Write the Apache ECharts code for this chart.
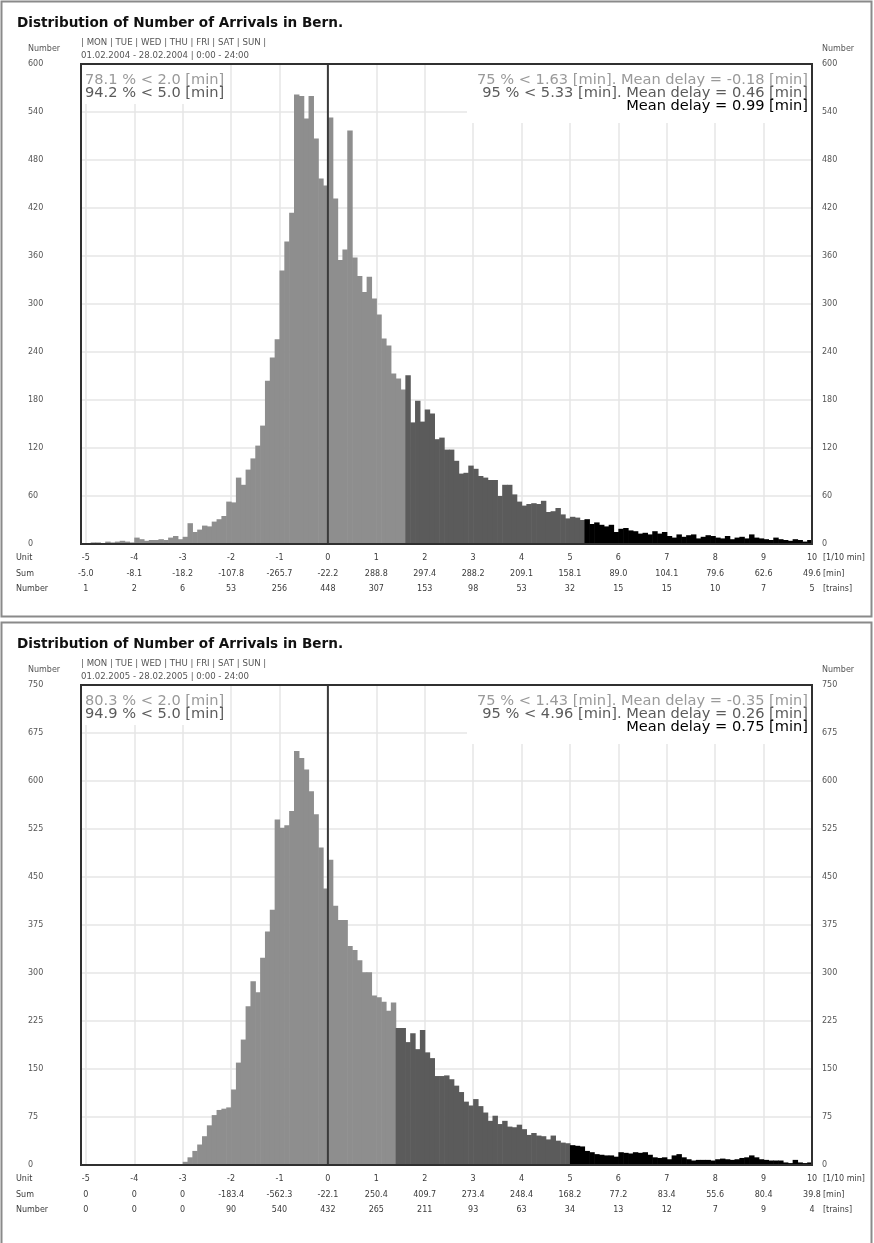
<!DOCTYPE html>
<html>
<head>
<meta charset="utf-8">
<title>Distribution of Number of Arrivals in Bern</title>
<script src="https://cdn.jsdelivr.net/npm/echarts@6/dist/echarts.min.js"></script>
<style>
  html, body { margin: 0; padding: 0; background: #fff; }
  #chart { width: 874px; height: 1243px; }
</style>
</head>
<body>
<div id="chart"></div>
<script>
// Histogram bins are 0.1 min wide; the bin labelled k holds delays in (k-0.1, k].
const binStart = -5.0;
const binStep = 0.1;

// February 2004, arrivals per bin from -5.0 to 10.0 min
const counts2004 = [
  1, 1, 2, 2, 1, 3, 2, 3, 4, 3,
  2, 8, 6, 4, 5, 5, 6, 5, 8, 10,
  6, 9, 26, 15, 18, 23, 22, 28, 31, 35,
  53, 52, 83, 74, 93, 107, 123, 148, 204, 233,
  256, 342, 378, 414, 562, 560, 532, 560, 507, 457,
  448, 533, 432, 355, 368, 517, 358, 335, 315, 334,
  307, 287, 257, 248, 213, 207, 193, 211, 152, 179,
  153, 168, 163, 131, 133, 118, 118, 104, 88, 89,
  98, 94, 85, 83, 80, 80, 60, 74, 74, 62,
  53, 48, 50, 51, 50, 54, 40, 41, 45, 37,
  32, 34, 33, 30, 31, 25, 27, 24, 22, 24,
  15, 19, 20, 17, 16, 13, 14, 12, 16, 13,
  15, 10, 8, 12, 9, 11, 12, 7, 9, 11,
  10, 8, 7, 10, 6, 8, 9, 7, 12, 8,
  7, 6, 5, 8, 6, 5, 4, 6, 5, 3,
  5
];

// February 2005, arrivals per bin from -5.0 to 10.0 min
const counts2005 = [
  0, 0, 0, 0, 0, 0, 0, 0, 0, 0,
  0, 0, 0, 0, 0, 0, 0, 0, 0, 0,
  0, 5, 12, 22, 32, 45, 62, 78, 86, 88,
  90, 118, 160, 196, 248, 287, 270, 324, 365, 399,
  540, 527, 531, 553, 647, 636, 618, 584, 548, 496,
  432, 477, 405, 383, 383, 342, 336, 320, 301, 301,
  265, 262, 255, 241, 254, 214, 214, 192, 206, 181,
  211, 176, 167, 139, 139, 140, 134, 124, 114, 99,
  93, 103, 92, 82, 69, 77, 64, 69, 60, 59,
  63, 56, 47, 50, 46, 45, 40, 46, 38, 35,
  34, 31, 30, 29, 22, 20, 17, 16, 15, 15,
  13, 20, 19, 18, 20, 19, 20, 16, 12, 11,
  12, 9, 15, 17, 12, 9, 7, 8, 8, 8,
  7, 9, 10, 9, 8, 9, 11, 12, 15, 12,
  9, 8, 7, 7, 7, 4, 3, 8, 4, 3,
  4
];

// Table rows under each histogram, one entry per whole minute -5 .. 10
const unitTicks = [-5, -4, -3, -2, -1, 0, 1, 2, 3, 4, 5, 6, 7, 8, 9, 10];
const sum2004 = ['-5.0', '-8.1', '-18.2', '-107.8', '-265.7', '-22.2', '288.8', '297.4', '288.2', '209.1', '158.1', '89.0', '104.1', '79.6', '62.6', '49.6'];
const number2004 = ['1', '2', '6', '53', '256', '448', '307', '153', '98', '53', '32', '15', '15', '10', '7', '5'];
const sum2005 = ['0', '0', '0', '-183.4', '-562.3', '-22.1', '250.4', '409.7', '273.4', '248.4', '168.2', '77.2', '83.4', '55.6', '80.4', '39.8'];
const number2005 = ['0', '0', '0', '90', '540', '432', '265', '211', '93', '63', '34', '13', '12', '7', '9', '4'];

// Count axis ticks
const yAxis2004 = { max: 600, step: 60 };
const yAxis2005 = { max: 750, step: 75 };

// Colour breaks: bins up to the 75 % delay are light, up to the 95 % delay dark, the rest black
const breaks2004 = { p75: 1.6, p95: 5.3 };
const breaks2005 = { p75: 1.4, p95: 5.0 };

// Summary texts
const weekdays = '| MON | TUE | WED | THU | FRI | SAT | SUN |';
const stats2004 = {
  period: '01.02.2004 - 28.02.2004 | 0:00 - 24:00',
  left: ['78.1 % < 2.0 [min]', '94.2 % < 5.0 [min]'],
  right: ['75 % < 1.63 [min]. Mean delay = -0.18 [min]', '95 % < 5.33 [min]. Mean delay = 0.46 [min]', 'Mean delay = 0.99 [min]']
};
const stats2005 = {
  period: '01.02.2005 - 28.02.2005 | 0:00 - 24:00',
  left: ['80.3 % < 2.0 [min]', '94.9 % < 5.0 [min]'],
  right: ['75 % < 1.43 [min]. Mean delay = -0.35 [min]', '95 % < 4.96 [min]. Mean delay = 0.26 [min]', 'Mean delay = 0.75 [min]']
};

const panels = [
  { top: 0, counts: counts2004, sums: sum2004, numbers: number2004, y: yAxis2004, breaks: breaks2004, stats: stats2004 },
  { top: 621, counts: counts2005, sums: sum2005, numbers: number2005, y: yAxis2005, breaks: breaks2005, stats: stats2005 }
];

// Layout
const PLOT_LEFT = 81, PLOT_WIDTH = 731, PLOT_TOP = 64, PLOT_HEIGHT = 480;
const FONT = 'DejaVu Sans';
const LIGHT = '#8e8e8e', DARK = '#5b5b5b', BLACK = '#000000';
const GRID_LINE = { color: '#e6e6e6', width: 1.5 };

const grid = [], xAxis = [], yAxis = [], series = [], graphic = [];

panels.forEach((p, i) => {
  const top = p.top + PLOT_TOP;
  grid.push({ left: PLOT_LEFT, top: top, width: PLOT_WIDTH, height: PLOT_HEIGHT, show: false, containLabel: false });

  const xBase = {
    gridIndex: i, type: 'value', min: -5.1, max: 10, splitNumber: 15, minInterval: 1, maxInterval: 1,
    axisLine: { show: false }, axisTick: { show: false }
  };
  // bars + vertical grid
  xAxis.push(Object.assign({}, xBase, { axisLabel: { show: false }, splitLine: { show: true, lineStyle: GRID_LINE } }));
  // table rows: Unit, Sum, Number
  const rows = [unitTicks.map(String), p.sums, p.numbers];
  rows.forEach((labels, r) => {
    xAxis.push(Object.assign({}, xBase, {
      position: 'bottom', offset: r * 15.5,
      splitLine: { show: false },
      axisLabel: {
        show: true, showMinLabel: false, showMaxLabel: true, margin: 10,
        fontSize: 8, color: '#3a3a3a', fontFamily: FONT,
        formatter: v => labels[unitTicks.indexOf(Math.round(v))] ?? ''
      }
    }));
  });

  const yBase = {
    gridIndex: i, type: 'value', min: 0, max: p.y.max, interval: p.y.step,
    axisLine: { show: false }, axisTick: { show: false }
  };
  yAxis.push(Object.assign({}, yBase, {
    position: 'left', splitLine: { show: true, lineStyle: GRID_LINE },
    axisLabel: { align: 'left', margin: 53, fontSize: 8, color: '#555', fontFamily: FONT }
  }));
  yAxis.push(Object.assign({}, yBase, {
    position: 'right', splitLine: { show: false },
    axisLabel: { align: 'left', margin: 10, fontSize: 8, color: '#555', fontFamily: FONT }
  }));

  const colourOf = k => (k <= p.breaks.p75 + 1e-9 ? LIGHT : (k <= p.breaks.p95 + 1e-9 ? DARK : BLACK));

  series.push({
    type: 'custom', xAxisIndex: i * 4, yAxisIndex: i * 2, clip: true, z: 2,
    data: p.counts.map((v, j) => [Math.round(binStart * 10 + j) / 10, v]),
    renderItem: (params, api) => {
      const k = api.value(0), v = api.value(1);
      const a = api.coord([k - binStep, v]);
      const b = api.coord([k, 0]);
      return {
        type: 'rect',
        shape: { x: a[0], y: a[1], width: b[0] - a[0] + 0.6, height: b[1] - a[1] },
        style: { fill: colourOf(k) }
      };
    }
  });

  // zero-delay line
  series.push({
    type: 'line', xAxisIndex: i * 4, yAxisIndex: i * 2, z: 3, silent: true,
    data: [[0, 0], [0, p.y.max]], symbol: 'none',
    lineStyle: { color: '#3a3a3a', width: 2 }
  });

  // panel frame
  graphic.push({
    type: 'rect', z: 0,
    shape: { x: 1.5, y: p.top + 1.5, width: 870, height: i === 0 ? 615 : 640 },
    style: { fill: null, stroke: '#8a8a8a', lineWidth: 2 }
  });
  // plot frame
  graphic.push({
    type: 'rect', z: 20,
    shape: { x: PLOT_LEFT, y: top, width: PLOT_WIDTH, height: PLOT_HEIGHT },
    style: { fill: null, stroke: '#303030', lineWidth: 2 }
  });

  // white panes behind the summaries
  graphic.push({ type: 'rect', z: 1, shape: { x: PLOT_LEFT + 1, y: top + 1, width: 144, height: 39 }, style: { fill: '#fff' } });
  graphic.push({ type: 'rect', z: 1, shape: { x: 467, y: top + 1, width: 344, height: 58 }, style: { fill: '#fff' } });

  const txt = (text, x, y, font, fill, align) => ({
    type: 'text', z: 30,
    style: { text: text, x: x, y: y, font: font, fill: fill, textAlign: align || 'left', textVerticalAlign: 'middle' }
  });

  graphic.push(txt('Distribution of Number of Arrivals in Bern.', 17, p.top + 23, 'bold 13.6px "' + FONT + '"', '#111'));
  graphic.push(txt(weekdays, 81, p.top + 43, '8.6px "' + FONT + '"', '#555'));
  graphic.push(txt(p.stats.period, 81, p.top + 56, '8.6px "' + FONT + '"', '#555'));
  graphic.push(txt('Number', 28, p.top + 49, '8px "' + FONT + '"', '#555'));
  graphic.push(txt('Number', 822, p.top + 49, '8px "' + FONT + '"', '#555'));

  const leftColours = ['#9a9a9a', '#5b5b5b'];
  p.stats.left.forEach((s, j) => graphic.push(txt(s, 85, top + 16 + j * 13, '14.6px "' + FONT + '"', leftColours[j])));
  const rightColours = ['#9a9a9a', '#5b5b5b', '#000'];
  p.stats.right.forEach((s, j) => graphic.push(txt(s, 808, top + 16 + j * 13, '14.6px "' + FONT + '"', rightColours[j], 'right')));

  // table row captions and units
  const base = top + PLOT_HEIGHT;
  ['Unit', 'Sum', 'Number'].forEach((s, r) => graphic.push(txt(s, 16, base + 14 + r * 15.5, '8px "' + FONT + '"', '#3a3a3a')));
  ['[1/10 min]', '[min]', '[trains]'].forEach((s, r) => graphic.push(txt(s, 823, base + 14 + r * 15.5, '8px "' + FONT + '"', '#3a3a3a')));
});

const chart = echarts.init(document.getElementById('chart'), null, { renderer: 'canvas' });
chart.setOption({
  animation: false,
  backgroundColor: '#fff',
  grid: grid,
  xAxis: xAxis,
  yAxis: yAxis,
  series: series,
  graphic: graphic
});
</script>
</body>
</html>
